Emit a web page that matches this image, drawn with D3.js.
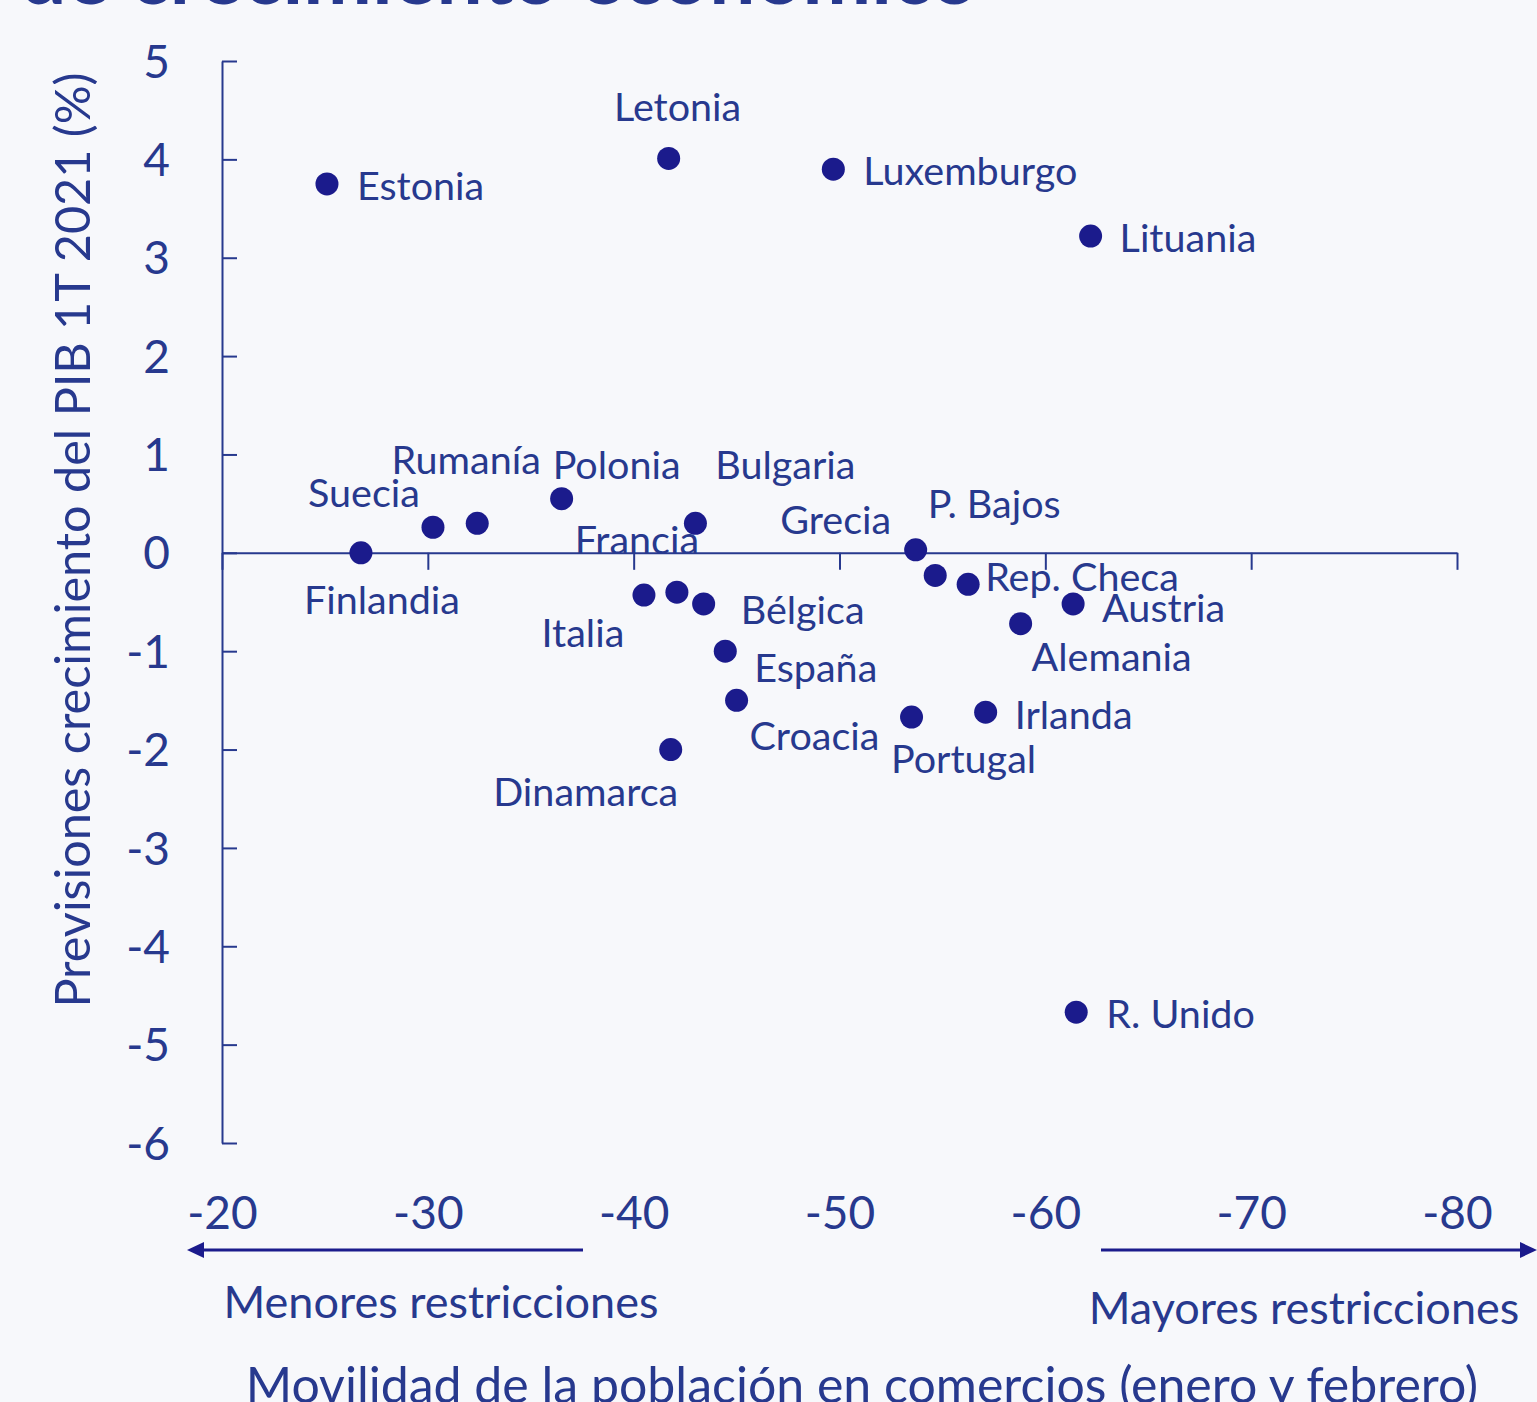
<!DOCTYPE html>
<html>
<head>
<meta charset="utf-8">
<title>Movilidad y previsiones de crecimiento</title>
<style>
body { margin: 0; background: #f7f8fb; }
svg { display: block; background: #f7f8fb; }
text { font-family: Lato, "Open Sans", sans-serif; fill: #27398e; }
.axis path, .axis line { stroke: #27398e; stroke-width: 2; }
.axis text { font-size: 46px; fill: #27398e; font-family: Lato, sans-serif; }
.lbl { font-size: 39.5px; }
.note { font-size: 45px; }
.title { font-size: 82px; font-weight: bold; }
</style>
</head>
<body>
<svg width="1537" height="1402"></svg>
<script src="https://d3js.org/d3.v7.min.js"></script>
<script>

// data
var countries = ["Estonia", "Letonia", "Luxemburgo", "Lituania", "Suecia", "Rumanía", "Polonia",
  "Finlandia", "Bulgaria", "Francia", "Italia", "Bélgica", "España", "Croacia", "Dinamarca",
  "Grecia", "P. Bajos", "Rep. Checa", "Alemania", "Austria", "Portugal", "Irlanda", "R. Unido"];
var mobility = [-25.1, -41.7, -49.7, -62.2, -30.25, -32.4, -36.5,
  -26.75, -43.0, -42.1, -40.5, -43.4, -44.45, -45.0, -41.8,
  -53.7, -54.65, -56.25, -58.8, -61.35, -53.5, -57.1, -61.5];
var growth = [3.75, 4.01, 3.9, 3.22, 0.26, 0.30, 0.55,
  0.0, 0.30, -0.40, -0.43, -0.52, -1.0, -1.5, -2.0,
  0.03, -0.23, -0.32, -0.72, -0.52, -1.67, -1.62, -4.67];
var xTicks = [-20, -30, -40, -50, -60, -70, -80];
var yTicks = [5, 4, 3, 2, 1, 0, -1, -2, -3, -4, -5, -6];

// label offsets from the dot: [dx, dy, anchor]
var labelPos = {
  "Estonia": [30, 2, "start"], "Letonia": [9, -51, "middle"], "Luxemburgo": [30, 2, "start"],
  "Lituania": [29, 2, "start"], "Suecia": [-69, -34, "middle"], "Rumanía": [-11, -63, "middle"],
  "Polonia": [55, -34, "middle"], "Finlandia": [21, 47, "middle"], "Bulgaria": [90, -58, "middle"],
  "Francia": [-40, -52, "middle"], "Italia": [-61, 38, "middle"], "Bélgica": [37, 6, "start"],
  "España": [29, 17, "start"], "Croacia": [13, 36, "start"], "Dinamarca": [-85, 43, "middle"],
  "Grecia": [-80, -30, "middle"], "P. Bajos": [59, -71, "middle"], "Rep. Checa": [17, -7, "start"],
  "Alemania": [91, 34, "middle"], "Austria": [29, 4, "start"], "Portugal": [52, 42, "middle"],
  "Irlanda": [29, 3, "start"], "R. Unido": [30, 2, "start"]
};

var svg = d3.select("svg");
var col = "#1b1b8c";

var x = d3.scaleLinear().domain([-20, -80]).range([222, 1457]);
var y = d3.scaleLinear().domain([-6, 5]).range([1143, 61]);

svg.append("text").attr("class", "title")
  .attr("x", 20).attr("y", 4)
  .text("de crecimiento económico");

// y axis, ticks point inward
svg.append("g").attr("class", "axis")
  .attr("transform", "translate(" + x(-20) + ",0)")
  .call(d3.axisLeft(y).tickValues(yTicks).tickSizeInner(-15).tickSizeOuter(0)
    .tickPadding(52).tickFormat(function(d) { return String(d); }))
  .call(function(g) { g.selectAll("text").attr("dy", "0.35em"); });

// x axis line through zero
svg.append("g").attr("class", "axis")
  .attr("transform", "translate(0," + y(0) + ")")
  .call(d3.axisBottom(x).tickValues(xTicks).tickSize(17).tickSizeOuter(0).tickFormat(""));

// x tick labels at the bottom
svg.append("g").attr("class", "axis")
  .attr("transform", "translate(0,1213)")
  .call(d3.axisBottom(x).tickValues(xTicks).tickSize(0).tickPadding(0)
    .tickFormat(function(d) { return String(d); }))
  .call(function(g) { g.select(".domain").remove(); g.selectAll("text").attr("dy", "0.35em").attr("y", 0); });

// points
var pts = countries.map(function(c, i) { return {name: c, mx: mobility[i], g: growth[i]}; });

svg.append("g").selectAll("circle")
  .data(pts).enter().append("circle")
  .attr("cx", function(d) { return x(d.mx); })
  .attr("cy", function(d) { return y(d.g); })
  .attr("r", 11.5)
  .attr("fill", col);

svg.append("g").selectAll("text")
  .data(pts).enter().append("text")
  .attr("class", "lbl")
  .attr("x", function(d) { return x(d.mx) + labelPos[d.name][0]; })
  .attr("y", function(d) { return y(d.g) + labelPos[d.name][1]; })
  .attr("dy", "0.35em")
  .attr("text-anchor", function(d) { return labelPos[d.name][2]; })
  .text(function(d) { return d.name; });

// y axis title
svg.append("text").attr("class", "note")
  .attr("transform", "translate(73,540) rotate(-90)")
  .attr("text-anchor", "middle").attr("dy", "0.35em").style("font-size", "48.5px")
  .text("Previsiones crecimiento del PIB 1T 2021 (%)");

// direction arrows
svg.append("line").attr("x1", 583).attr("x2", 200).attr("y1", 1250).attr("y2", 1250)
  .attr("stroke", col).attr("stroke-width", 3);
svg.append("path").attr("d", "M187,1250 L204,1242 L204,1258 Z").attr("fill", col);
svg.append("line").attr("x1", 1101).attr("x2", 1522).attr("y1", 1250).attr("y2", 1250)
  .attr("stroke", col).attr("stroke-width", 3);
svg.append("path").attr("d", "M1537,1250 L1520,1242 L1520,1258 Z").attr("fill", col);

svg.append("text").attr("class", "note").attr("x", 441).attr("y", 1302)
  .attr("dy", "0.35em").attr("text-anchor", "middle").text("Menores restricciones");
svg.append("text").attr("class", "note").attr("x", 1304).attr("y", 1308)
  .attr("dy", "0.35em").attr("text-anchor", "middle").text("Mayores restricciones");

svg.append("text").attr("class", "note").attr("x", 862).attr("y", 1385)
  .attr("dy", "0.35em").attr("text-anchor", "middle").style("font-size", "50px")
  .text("Movilidad de la población en comercios (enero y febrero)");

</script>
</body>
</html>
